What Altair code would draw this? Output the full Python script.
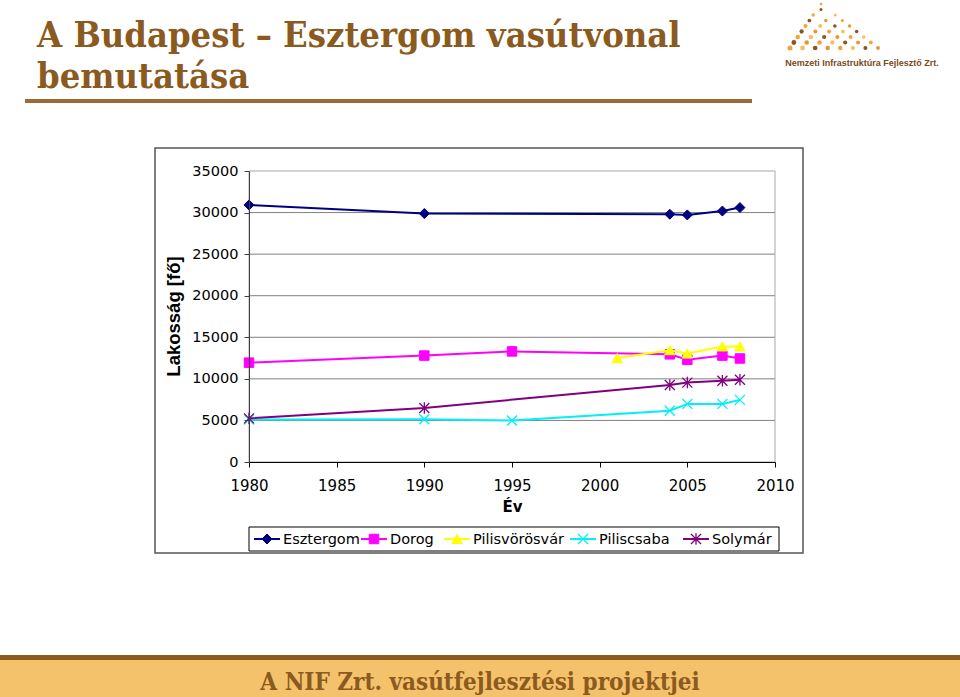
import altair as alt
import pandas as pd
import numpy as np

# ---------------- data ----------------
SERIES = ["Esztergom", "Dorog", "Pilisvörösvár", "Piliscsaba", "Solymár"]
COLORS = ["#000080", "#FF00FF", "#FFFF00", "#00F0F8", "#800080"]

esztergom_years = [1980, 1990, 2004, 2005, 2007, 2008]
esztergom_vals = [30920, 29880, 29800, 29720, 30180, 30600]
dorog_years = [1980, 1990, 1995, 2004, 2005, 2007, 2008]
dorog_vals = [11950, 12800, 13300, 12950, 12290, 12800, 12450]
pilisvorosvar_years = [2001, 2004, 2005, 2007, 2008]
pilisvorosvar_vals = [12500, 13450, 13050, 13900, 13900]
piliscsaba_years = [1980, 1990, 1995, 2004, 2005, 2007, 2008]
piliscsaba_vals = [5120, 5150, 5000, 6170, 6990, 6990, 7470]
solymar_years = [1980, 1990, 2004, 2005, 2007, 2008]
solymar_vals = [5250, 6500, 9270, 9550, 9770, 9900]

YEARS = [esztergom_years, dorog_years, pilisvorosvar_years, piliscsaba_years, solymar_years]
VALUES = [esztergom_vals, dorog_vals, pilisvorosvar_vals, piliscsaba_vals, solymar_vals]

X_TICKS = [1980, 1985, 1990, 1995, 2000, 2005, 2010]
Y_TICKS = [0, 5000, 10000, 15000, 20000, 25000, 30000, 35000]
GRID_VALUES = [5000, 10000, 15000, 20000, 25000, 30000]

TITLE_1 = "A Budapest – Esztergom vasútvonal"
TITLE_2 = "bemutatása"
FOOTER = "A NIF Zrt. vasútfejlesztési projektjei"
LOGO_TEXT = "Nemzeti Infrastruktúra Fejlesztő Zrt."

# ---------------- layout / style ----------------
W, H = 526, 291           # plot area
PAD_L, PAD_T = 249, 171   # plot area origin on the page
X_PATH = "M-1,-1L1,1M-1,1L1,-1"
AST_PATH = "M-1,-1L1,1M-1,1L1,-1M0,-1.15L0,1.15"
SHAPES = ["diamond", "square", "triangle-up", X_PATH, AST_PATH]
FILLED = [True, True, True, False, False]
SIZES = [100, 90, 110, 100, 100]
LEGEND_X = [5, 112, 195, 321, 434]
LEGEND_Y = 368
BROWN = "#8B5A1E"
TITLE_FONT = "'DejaVu Serif Condensed', 'DejaVu Serif', serif"
SANS = "DejaVu Sans"


def one_row():
    return pd.DataFrame({"k": [0]})


x_enc = alt.X(
    "year:Q",
    scale=alt.Scale(domain=[1980, 2010], nice=False, zero=False),
    axis=alt.Axis(
        values=X_TICKS, format="d", grid=False, domainColor="black", domainWidth=1,
        tickColor="black", tickSize=5, labelFont=SANS, labelFontSize=15,
        labelColor="black", labelPadding=11, labelFlush=False, labelOverlap=False,
        title="Év", titleFont=SANS, titleFontWeight="bold", titleFontSize=15,
        titleColor="black", titleX=263, titleY=49, titleAlign="center",
        titleBaseline="alphabetic", zindex=1,
    ),
)
y_enc = alt.Y(
    "value:Q",
    scale=alt.Scale(domain=[0, 35000], nice=False),
    axis=alt.Axis(
        values=Y_TICKS, format="d", grid=False, domainColor="#404040", domainWidth=1,
        tickColor="#404040", tickSize=5, labelFont=SANS, labelFontSize=14.5,
        labelColor="black", labelPadding=6, labelOverlap=False,
        title="Lakosság [fő]", titleFont="Liberation Sans", titleFontWeight="bold",
        titleFontSize=18.5, titleColor="black", titleAngle=270, titleX=-70,
        titleY=145, titleAlign="center", titleBaseline="alphabetic", zindex=1,
    ),
)

layers = []

# chart frame (white box with gray border)
layers.append(
    alt.Chart(one_row()).mark_rect(fill="white", stroke="#555555", strokeWidth=1.5).encode(
        x=alt.value(155 - PAD_L), x2=alt.value(803 - PAD_L),
        y=alt.value(148 - PAD_T), y2=alt.value(553 - PAD_T),
    )
)

# gridlines
grid_df = pd.DataFrame({"value": GRID_VALUES})
layers.append(
    alt.Chart(grid_df).mark_rule(color="#808080", strokeWidth=1).encode(
        y=y_enc, x=alt.value(0), x2=alt.value(W),
    )
)

# plot-area border (top / right)
layers.append(
    alt.Chart(one_row()).mark_rect(fill=None, stroke="#a8a8a8", strokeWidth=1).encode(
        x=alt.value(0), x2=alt.value(W), y=alt.value(0), y2=alt.value(H),
    )
)

# series lines then markers
frames = []
for name, yrs, vals in zip(SERIES, YEARS, VALUES):
    frames.append(pd.DataFrame({"series": name, "year": yrs, "value": vals}))

for i, df in enumerate(frames):
    layers.append(
        alt.Chart(df).mark_line(color=COLORS[i], strokeWidth=2).encode(x=x_enc, y=y_enc)
    )
    if FILLED[i]:
        pt = alt.Chart(df).mark_point(
            shape=SHAPES[i], filled=True, fill=COLORS[i], stroke=COLORS[i],
            strokeWidth=1, size=SIZES[i], opacity=1,
        )
    else:
        pt = alt.Chart(df).mark_point(
            shape=SHAPES[i], filled=False, stroke=COLORS[i], strokeWidth=1.3,
            size=SIZES[i], opacity=1,
        )
    layers.append(pt.encode(x=x_enc, y=y_enc))

# legend box and entries
layers.append(
    alt.Chart(one_row()).mark_rect(fill="white", stroke="black", strokeWidth=1).encode(
        x=alt.value(0), x2=alt.value(530), y=alt.value(356), y2=alt.value(380),
    )
)
for i, name in enumerate(SERIES):
    lx = LEGEND_X[i]
    layers.append(
        alt.Chart(one_row()).mark_rule(color=COLORS[i], strokeWidth=2).encode(
            x=alt.value(lx), x2=alt.value(lx + 26), y=alt.value(LEGEND_Y)
        )
    )
    if FILLED[i]:
        lp = alt.Chart(one_row()).mark_point(
            shape=SHAPES[i], filled=True, fill=COLORS[i], stroke=COLORS[i],
            strokeWidth=1, size=SIZES[i], opacity=1,
        )
    else:
        lp = alt.Chart(one_row()).mark_point(
            shape=SHAPES[i], filled=False, stroke=COLORS[i], strokeWidth=1.3,
            size=SIZES[i], opacity=1,
        )
    layers.append(lp.encode(x=alt.value(lx + 13), y=alt.value(LEGEND_Y)))
    layers.append(
        alt.Chart(one_row()).mark_text(
            text=name, font=SANS, fontSize=14.5, color="black", align="left",
            baseline="middle",
        ).encode(x=alt.value(lx + 29), y=alt.value(LEGEND_Y + 1))
    )

# page title and rule
layers.append(
    alt.Chart(one_row()).mark_text(
        text=TITLE_1, font=TITLE_FONT, fontWeight="bold", fontSize=36, color=BROWN,
        align="left", baseline="alphabetic",
    ).encode(x=alt.value(37 - PAD_L), y=alt.value(47 - PAD_T))
)
layers.append(
    alt.Chart(one_row()).mark_text(
        text=TITLE_2, font=TITLE_FONT, fontWeight="bold", fontSize=36, color=BROWN,
        align="left", baseline="alphabetic",
    ).encode(x=alt.value(37 - PAD_L), y=alt.value(88 - PAD_T))
)
layers.append(
    alt.Chart(one_row()).mark_rect(color="#9C6A34").encode(
        x=alt.value(25 - PAD_L), x2=alt.value(752 - PAD_L),
        y=alt.value(99 - PAD_T), y2=alt.value(103 - PAD_T),
    )
)

# logo: dotted triangle + name
dots = []
rows = 9
palette = ["#EFA43A", "#F3C060", "#8A5522", "#E39A35"]
for r in range(rows):
    t = r / (rows - 1)
    py = 4 + t * 44
    left, right = 821 - t * 31, 821 + t * 57
    n = max(1, r)
    xs = np.linspace(left, right, n) if n > 1 else [821.0]
    for j, px in enumerate(xs):
        u = j / max(n - 1, 1)
        dots.append({
            "year": 1980 + (px - PAD_L) * 30 / W,
            "value": (H - (py - PAD_T)) * 35000 / H,
            "c": palette[(r * 2 + j) % 4],
            "s": 7 + 18 * t * (1 - 0.55 * u),
        })
dots_df = pd.DataFrame(dots)
layers.append(
    alt.Chart(dots_df).mark_circle(opacity=1).encode(
        x=x_enc, y=y_enc,
        color=alt.Color("c:N", scale=None, legend=None),
        size=alt.Size("s:Q", scale=None, legend=None),
    )
)
layers.append(
    alt.Chart(one_row()).mark_text(
        text=LOGO_TEXT, font="Liberation Sans", fontWeight="bold", fontSize=9,
        color="#7A4A20", align="center", baseline="alphabetic",
    ).encode(x=alt.value(862 - PAD_L), y=alt.value(66 - PAD_T))
)

# footer band
layers.append(
    alt.Chart(one_row()).mark_rect(color="#F5C26C").encode(
        x=alt.value(-PAD_L), x2=alt.value(960 - PAD_L),
        y=alt.value(660 - PAD_T), y2=alt.value(697 - PAD_T),
    )
)
layers.append(
    alt.Chart(one_row()).mark_rect(color="#8B5A1E").encode(
        x=alt.value(-PAD_L), x2=alt.value(960 - PAD_L),
        y=alt.value(655 - PAD_T), y2=alt.value(660 - PAD_T),
    )
)
layers.append(
    alt.Chart(one_row()).mark_text(
        text=FOOTER, font=TITLE_FONT, fontWeight="bold", fontSize=24, color=BROWN,
        align="center", baseline="alphabetic",
    ).encode(x=alt.value(480 - PAD_L), y=alt.value(690 - PAD_T))
)

chart = (
    alt.layer(*layers)
    .properties(
        width=W, height=H,
        autosize=alt.AutoSizeParams(type="none"),
        padding={"left": PAD_L, "top": PAD_T, "right": 960 - PAD_L - W, "bottom": 697 - PAD_T - H},
        background="white",
    )
    .configure_view(stroke=None)
)

chart.save("out.html", embed_options={"renderer": "svg", "actions": False})
